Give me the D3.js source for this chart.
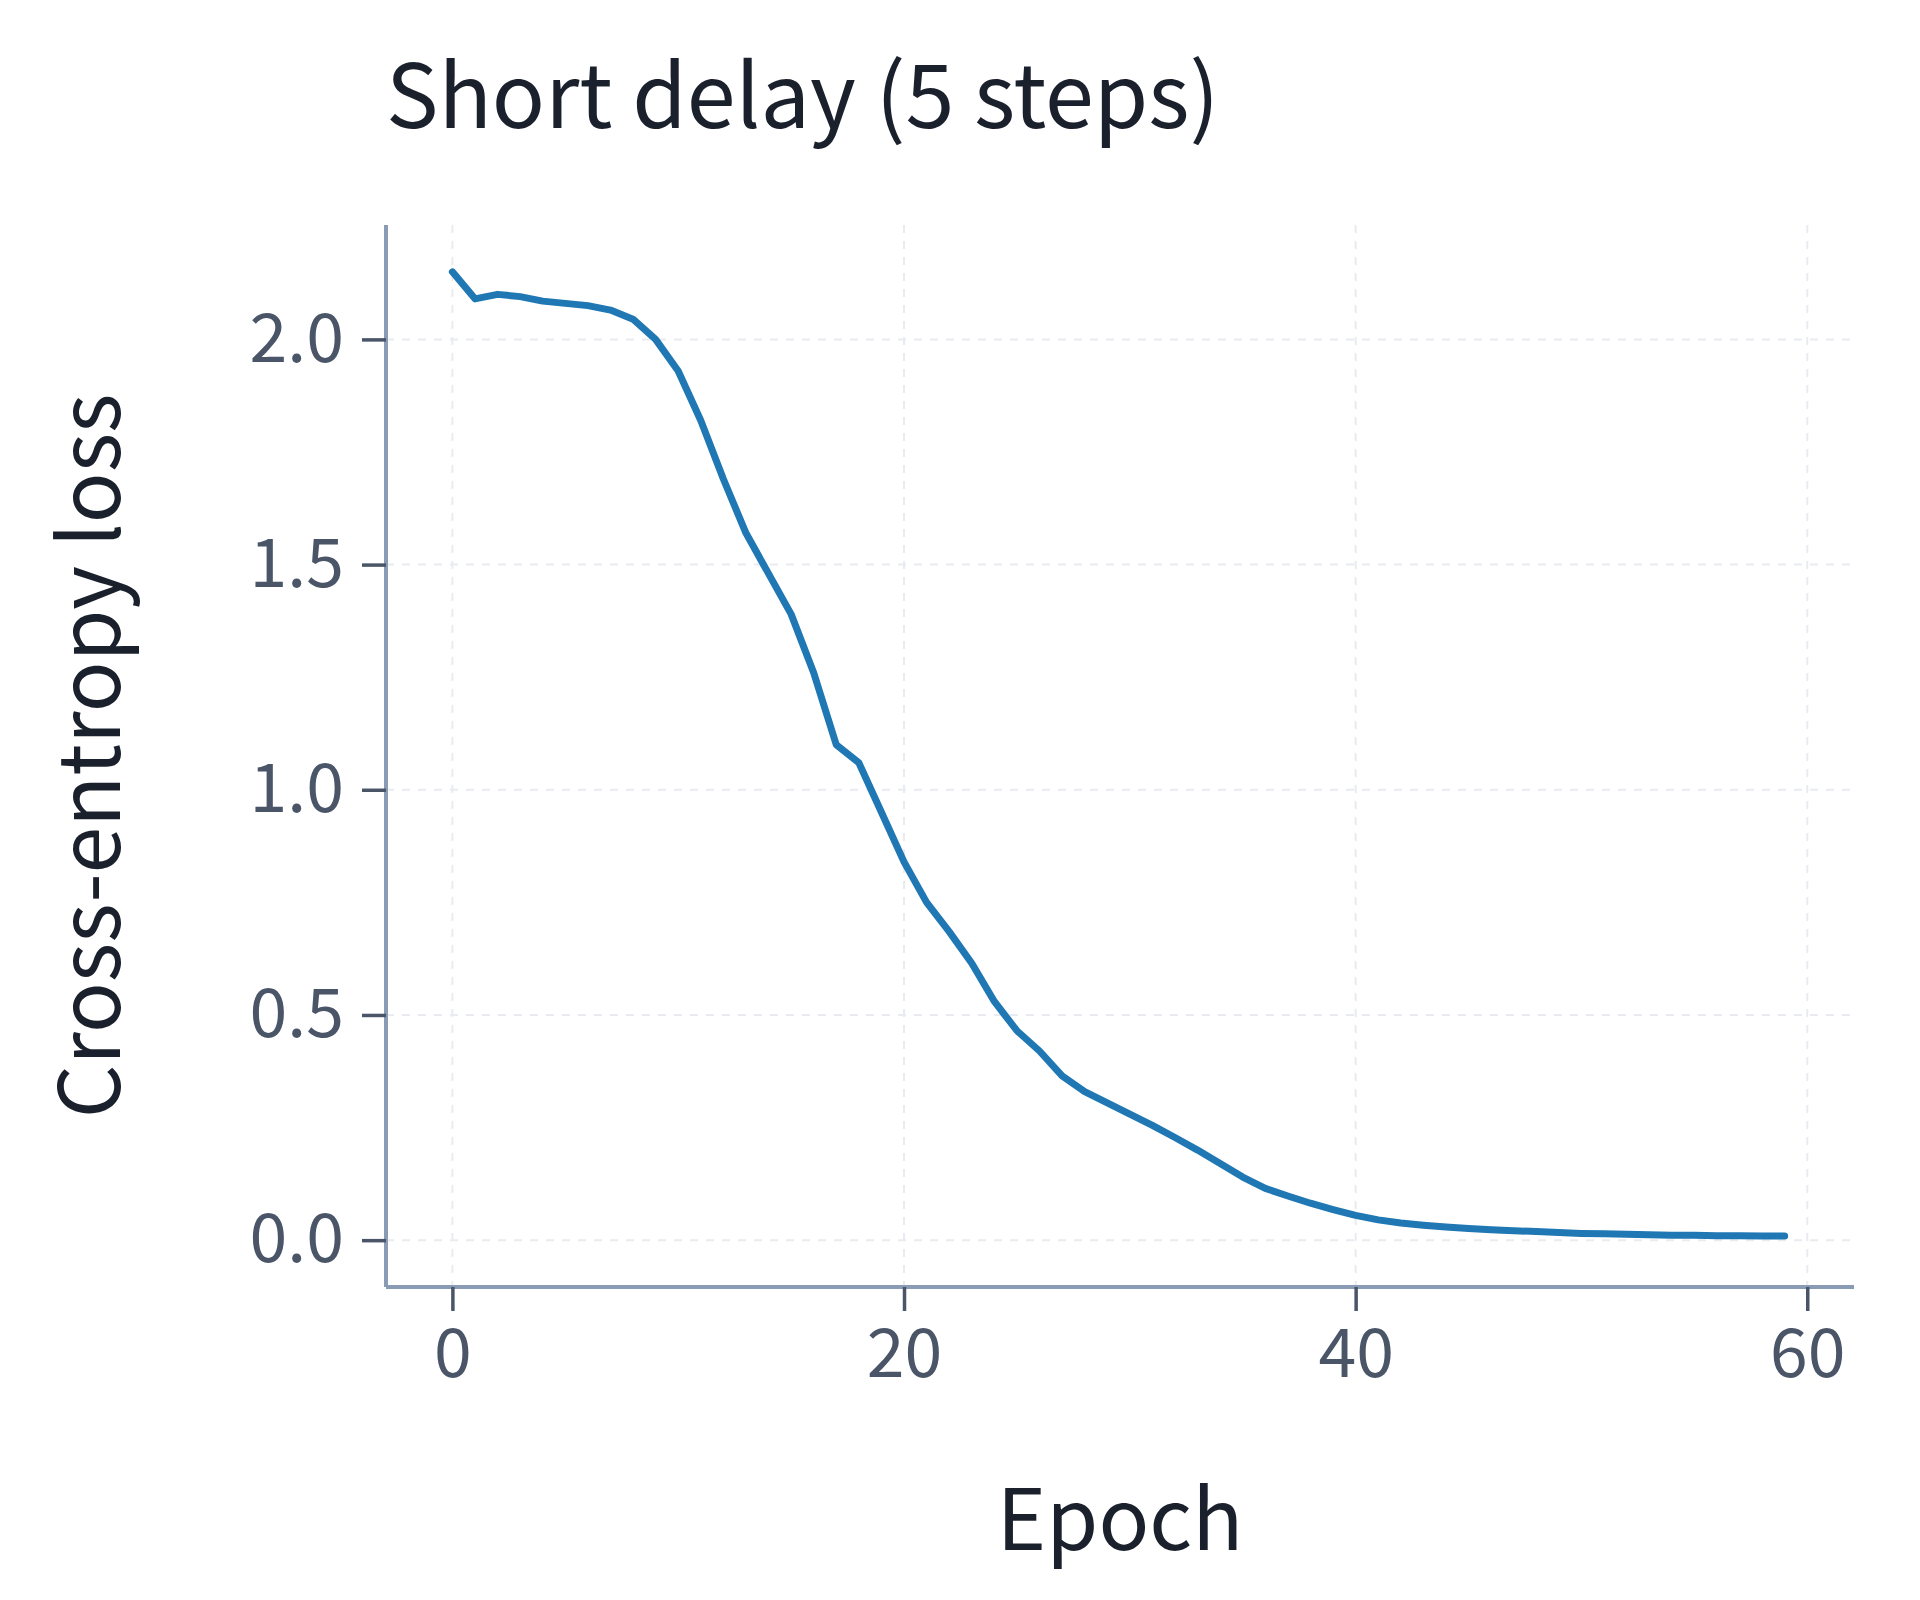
<!DOCTYPE html><html><head><meta charset="utf-8">
<script src="https://cdn.jsdelivr.net/npm/d3@7"></script>
<style>body{margin:0;background:#fff}</style></head><body>
<svg id="c" width="1920" height="1600"></svg>
<script>
const epochs = d3.range(60);
const loss = [2.15,2.09,2.10,2.095,2.085,2.08,2.075,2.065,2.045,2.00,1.93,1.82,1.69,1.57,1.48,1.39,1.26,1.10,1.06,0.95,0.84,0.75,0.685,0.615,0.53,0.465,0.42,0.365,0.33,0.305,0.28,0.255,0.228,0.2,0.17,0.14,0.115,0.098,0.082,0.068,0.055,0.045,0.038,0.033,0.029,0.026,0.023,0.021,0.019,0.017,0.015,0.014,0.013,0.012,0.011,0.011,0.010,0.010,0.009,0.009];
const xTicks = [0,20,40,60];
const yTicks = [0,0.5,1.0,1.5,2.0];
const svg = d3.select("#c");
const font = "'Noto Sans CJK KR','Noto Sans',sans-serif";
const L=386,R=1854,T=225,B=1287;
const x = d3.scaleLinear().domain([-2.94,62.07]).range([L,R]);
const y = d3.scaleLinear().domain([-0.104,2.254]).range([B,T]);
const g = svg.append("g");
g.selectAll(".gx").data(xTicks).join("line").attr("x1",d=>x(d)).attr("x2",d=>x(d)).attr("y1",T).attr("y2",B)
 .attr("stroke","#e8ecf1").attr("stroke-width",2).attr("stroke-dasharray","8,8");
g.selectAll(".gy").data(yTicks).join("line").attr("y1",d=>y(d)).attr("y2",d=>y(d)).attr("x1",L).attr("x2",R)
 .attr("stroke","#e8ecf1").attr("stroke-width",2).attr("stroke-dasharray","8,8");
const ax = svg.append("g").attr("transform",`translate(0,${B})`).call(d3.axisBottom(x).tickValues(xTicks).tickSize(24).tickPadding(18).tickFormat(d3.format("d")));
const ay = svg.append("g").attr("transform",`translate(${L},0)`).call(d3.axisLeft(y).tickValues(yTicks).tickSize(24).tickPadding(18).tickFormat(d3.format(".1f")));
[ax,ay].forEach(a=>{a.select(".domain").attr("stroke","#8a9bb5").attr("stroke-width",4);
 a.selectAll(".tick line").attr("stroke","#4a5568").attr("stroke-width",3.5);
 a.selectAll("text").attr("fill","#4a5568").style("font-family",font).style("font-size","68px");});
ax.select(".domain").attr("d",`M${L},0H${R}`);
ay.select(".domain").attr("d",`M0,${T}V${B}`);
svg.append("path").datum(epochs).attr("fill","none").attr("stroke","#1f77b4").attr("stroke-width",7).attr("stroke-linejoin","round").attr("stroke-linecap","round")
 .attr("d",d3.line().x(d=>x(d)).y((d,i)=>y(loss[i])));
svg.append("text").attr("x",386).attr("y",128).text("Short delay (5 steps)").attr("fill","#1a202c").style("font-family",font).style("font-size","88px");
svg.append("text").attr("x",(L+R)/2).attr("y",1550).attr("text-anchor","middle").text("Epoch").attr("fill","#1a202c").style("font-family",font).style("font-size","84px");
svg.append("text").attr("transform",`translate(120,${(T+B)/2}) rotate(-90)`).attr("text-anchor","middle").text("Cross-entropy loss").attr("fill","#1a202c").style("font-family",font).style("font-size","84px");
</script></body></html>
